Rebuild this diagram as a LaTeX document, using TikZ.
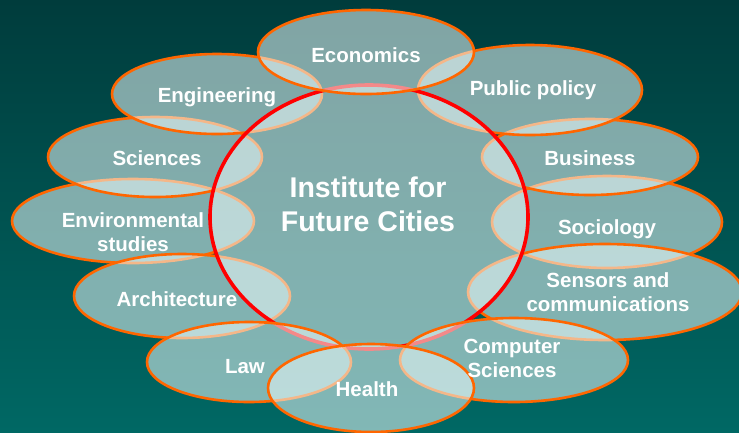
\documentclass[tikz,border=0pt]{standalone}
\usepackage{fontspec}
\setmainfont{Liberation Sans}
\usetikzlibrary{shapes.geometric}
\definecolor{bgtop}{RGB}{0,60,60}
\definecolor{bgbot}{RGB}{0,104,100}
\definecolor{ringorange}{RGB}{255,102,0}
\definecolor{meshfill}{RGB}{235,250,250}
\begin{document}
\begin{tikzpicture}[x=1pt,y=-1pt,
  field/.style={ellipse, draw=ringorange, line width=2.6pt, fill=meshfill, fill opacity=0.55, draw opacity=1, inner sep=0pt},
  core/.style={ellipse, draw=red, line width=3.6pt, fill=meshfill, fill opacity=0.55, draw opacity=1, inner sep=0pt},
  lab/.style={text=white, font=\bfseries\fontsize{20.5}{24}\selectfont, align=center, inner sep=0pt},
  title/.style={text=white, font=\bfseries\fontsize{28.5}{34}\selectfont, align=center, inner sep=0pt}]
\shade[top color=bgtop, bottom color=bgbot] (0,0) rectangle (739,432);
\useasboundingbox (0,0) rectangle (739,432);
% ellipses in stacking order
\node[field, minimum width=242pt, minimum height=84pt] (env) at (133,221) {};
\node[field, minimum width=214pt, minimum height=80pt] (sci) at (155,157) {};
\node[field, minimum width=210pt, minimum height=80pt] (eng) at (217,94) {};
\node[field, minimum width=216pt, minimum height=84pt] (arch) at (182,296) {};
\node[field, minimum width=230pt, minimum height=92pt] (soc) at (607,222) {};
\node[field, minimum width=216pt, minimum height=76pt] (bus) at (590,157) {};
\node[field, minimum width=224pt, minimum height=90pt] (pub) at (530,90) {};
\node[field, minimum width=274pt, minimum height=96pt] (sens) at (605,292) {};
\node[core, minimum width=318pt, minimum height=264pt] (inst) at (369,217) {};
\node[field, minimum width=204pt, minimum height=80pt] (law) at (249,362) {};
\node[field, minimum width=228pt, minimum height=84pt] (comp) at (514,360) {};
\node[field, minimum width=206pt, minimum height=88pt] (health) at (371,388) {};
\node[field, minimum width=216pt, minimum height=84pt] (econ) at (366,52) {};
% labels
\node[title] (tinst) at (368,204) {Institute for\\Future Cities};
\node[lab] (teng) at (217,97) {Engineering};
\node[lab] (tecon) at (366,55) {Economics};
\node[lab] (tpub) at (533,90) {Public policy};
\node[lab] (tsci) at (157,158) {Sciences};
\node[lab] (tbus) at (590,158) {Business};
\node[lab] (tenv) at (133,232) {Environmental\\studies};
\node[lab] (tsoc) at (607,229) {Sociology};
\node[lab] (tarch) at (177,299) {Architecture};
\node[lab] (tsens) at (608,292) {Sensors and\\communications};
\node[lab] (tlaw) at (245,367) {Law};
\node[lab] (tcomp) at (512,358) {Computer\\Sciences};
\node[lab] (thealth) at (367,389) {Health};
\end{tikzpicture}
\end{document}
